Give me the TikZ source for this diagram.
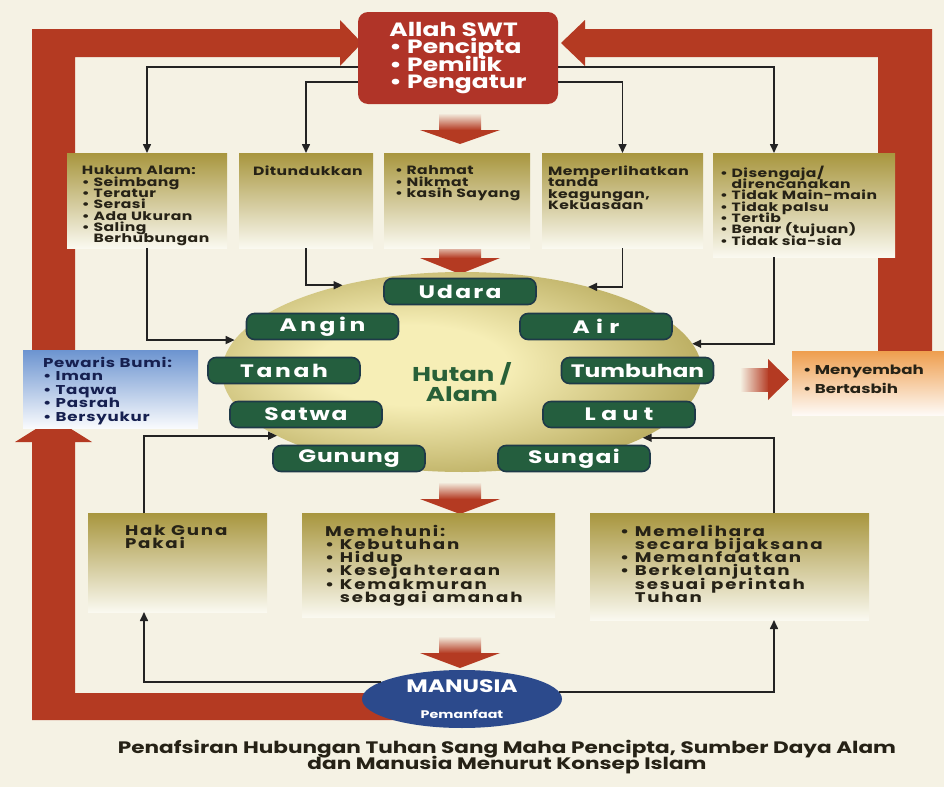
\documentclass[tikz,border=0pt]{standalone}
\usepackage{fontspec}
\setmainfont{Poppins}[FakeStretch=1.3]
\usetikzlibrary{arrows.meta,shapes.geometric}

\definecolor{cream}{RGB}{245,242,228}
\definecolor{framered}{RGB}{180,58,34}
\definecolor{boxred}{RGB}{176,52,40}
\definecolor{boxgold}{RGB}{168,150,62}
\definecolor{boxwhite}{RGB}{250,249,240}
\definecolor{pillgreen}{RGB}{36,94,62}
\definecolor{pilledge}{RGB}{30,58,72}
\definecolor{hutgreen}{RGB}{40,96,56}
\definecolor{ellin}{RGB}{246,238,182}
\definecolor{ellout}{RGB}{160,144,58}
\definecolor{skyblue}{RGB}{108,148,208}
\definecolor{navy}{RGB}{22,32,80}
\definecolor{orangetop}{RGB}{238,158,78}
\definecolor{manblue}{RGB}{44,74,140}
\definecolor{inkdark}{RGB}{38,34,22}
\definecolor{lineink}{RGB}{35,35,35}

\pgfdeclareradialshading{alamglow}{\pgfpoint{-6bp}{2bp}}{color(0bp)=(ellin); color(10bp)=(ellin); color(38bp)=(ellout); color(50bp)=(ellout); color(80bp)=(ellout)}

\newcommand\allahfont{\fontsize{9.6}{8.8}\selectfont\bfseries}
\newcommand\boxfont{\fontsize{6}{5.65}\selectfont\bfseries\addfontfeature{LetterSpace=4}}
\newcommand\lowfont{\fontsize{7}{6.6}\selectfont\bfseries\addfontfeature{LetterSpace=13}}
\newcommand\sidefont{\fontsize{6.4}{6.75}\selectfont\bfseries\addfontfeature{LetterSpace=6}}
\newcommand\pillfont{\fontsize{9}{9}\selectfont\bfseries}
\newcommand\capfont{\fontsize{8.3}{7.6}\selectfont\bfseries}
\newcommand\bul{\textbullet\ }
\newcommand\ind{\phantom{\textbullet\ }}
% width, height, left pad, top pad, text
\newcommand\boxtext[5]{\begin{minipage}[t][#2][t]{#1}\lineskiplimit=-100pt\lineskip=0pt\relax
  \vspace*{#4}\raggedright\leftskip=#3\relax #5\end{minipage}}

\tikzset{
  goldbox/.style={shade, top color=boxgold, middle color=boxgold!72!boxwhite, bottom color=boxwhite,
    anchor=north west, inner sep=0pt, outer sep=0pt, text=inkdark},
  pill/.style={rectangle, rounded corners=4pt, fill=pillgreen, draw=pilledge, line width=0.8pt,
    minimum width=76pt, minimum height=13pt, inner sep=0pt, text=white,
    font=\pillfont\addfontfeature{LetterSpace=#1}},
  pill/.default=0,
  conn/.style={draw=lineink, line width=0.8pt, -{Triangle[length=4.5pt,width=4pt]}},
  hutlabel/.style={align=center, font=\fontsize{10}{10}\selectfont\bfseries, text=hutgreen, yshift=-5pt},
}

\begin{document}
\begin{tikzpicture}[x=0.5pt,y=-0.5pt]
  \lineskiplimit=-100pt
  \useasboundingbox (0,0) rectangle (944,787);
  \fill[cream] (0,0) rectangle (944,787);

  % red frame
  \fill[framered] (405,720) -- (32,720) -- (32,442) -- (15,442) -- (53.5,418) -- (92,442)
    -- (75,442) -- (75,693) -- (405,693) -- cycle;
  \fill[framered] (32,352) -- (32,29) -- (340,29) -- (340,20) -- (362,43) -- (340,66)
    -- (340,57) -- (75,57) -- (75,352) -- cycle;
  \fill[framered] (932,352) -- (932,29) -- (585,29) -- (585,20) -- (561,43) -- (585,66)
    -- (585,57) -- (878,57) -- (878,352) -- cycle;

  % block arrows
  \foreach \ya/\yb/\yc in {113/130/144, 244/258/274, 482/499/514, 636/653/668}{
    \shade[top color=cream, bottom color=framered] (439,\ya) rectangle (481,\yb);
    \fill[framered] (420,\yb) -- (500,\yb) -- (460,\yc) -- cycle;
  }
  \shade[left color=cream, right color=framered] (740,368) rectangle (769,391);
  \fill[framered] (768,359) -- (789,379.5) -- (768,400) -- cycle;

  \coordinate (lcol) at (144,0);
  \coordinate (rcol) at (774,0);

  \node[rectangle, rounded corners=5pt, fill=boxred, minimum width=100pt, minimum height=46pt,
    text=white, align=left, font=\allahfont] (allah) at (458,58)
    {Allah SWT\\\bul Pencipta\\\bul Pemilik\\\bul Pengatur};

  % Hutan / Alam
  \node[ellipse, shading=alamglow, minimum width=240pt, minimum height=100pt, inner sep=0pt,
    outer sep=0pt, label={[hutlabel]center:{Hutan /\\Alam}}] (alam) at (462,372) {};
  \node[pill=12] (udara) at (460,291.5) {Udara};
  \node[pill=20] (angin) at (322.5,326.5) {Angin};
  \node[pill=35] (air) at (596,326.5) {Air};
  \node[pill=15] (tanah) at (284,370.5) {Tanah};
  \node[pill] (tumbuhan) at (637.5,370.5) {Tumbuhan};
  \node[pill=10] (satwa) at (306,414.5) {Satwa};
  \node[pill=30] (laut) at (619,414.5) {Laut};
  \node[pill=5] (gunung) at (349,458.5) {Gunung};
  \node[pill=8] (sungai) at (574,458.5) {Sungai};

  % top row
  \node[goldbox, font=\boxfont] (hukum) at (67,153) {\boxtext{80pt}{47.5pt}{7.5pt}{6.5pt}{Hukum Alam:\\
    \bul Seimbang\\\bul Teratur\\\bul Serasi\\\bul Ada Ukuran\\\bul Saling\\\ind Berhubungan}};
  \node[goldbox, font=\boxfont] (ditu) at (239,153) {\boxtext{67pt}{47.5pt}{7pt}{6.5pt}{Ditundukkan}};
  \node[goldbox, font=\boxfont] (rahmat) at (384,153) {\boxtext{73pt}{47.5pt}{5.5pt}{6.5pt}{\bul Rahmat\\
    \bul Nikmat\\\bul kasih Sayang}};
  \node[goldbox, font=\boxfont] (mem) at (542,153) {\boxtext{80.5pt}{47.5pt}{3pt}{6.5pt}{Memperlihatkan\\
    tanda\\keagungan,\\Kekuasaan}};
  \node[goldbox, font=\boxfont] (diseng) at (713,153) {\boxtext{91pt}{52pt}{3.5pt}{6.5pt}{\bul Disengaja/\\
    \ind direncanakan\\\bul Tidak Main-main\\\bul Tidak palsu\\\bul Tertib\\\bul Benar (tujuan)\\
    \bul Tidak sia-sia}};

  % bottom row
  \node[goldbox, font=\lowfont] (hak) at (88,513) {\boxtext{89.5pt}{49.5pt}{18.5pt}{6pt}{Hak Guna\\Pakai}};
  \node[goldbox, font=\lowfont] (memeh) at (302,513) {\boxtext{126.5pt}{52pt}{11.5pt}{6pt}{Memehuni:\\
    \bul Kebutuhan\\\bul Hidup\\\bul Kesejahteraan\\\bul Kemakmuran\\\ind sebagai amanah}};
  \node[goldbox, font=\lowfont] (pel) at (590,513) {\boxtext{139.5pt}{53.5pt}{15pt}{6pt}{\bul Memelihara\\
    \ind secara bijaksana\\\bul Memanfaatkan\\\bul Berkelanjutan\\\ind sesuai perintah\\\ind Tuhan}};

  % side boxes
  \node[goldbox, top color=skyblue, middle color=skyblue!55!white, bottom color=white!96!skyblue,
    text=navy, font=\sidefont] (pewaris) at (23,350) {\boxtext{87.5pt}{39pt}{10pt}{3.5pt}{Pewaris Bumi:\\
    \bul Iman\\\bul Taqwa\\\bul Pasrah\\\bul Bersyukur}};
  \node[goldbox, top color=orangetop, middle color=orangetop!50!white, bottom color=white!95!orangetop,
    font=\fontsize{6.4}{9.5}\selectfont\bfseries] (sembah) at (792,351)
    {\boxtext{76pt}{32pt}{5.5pt}{7pt}{\bul Menyembah\\\bul Bertasbih}};

  \node[ellipse, fill=manblue, minimum width=100pt, minimum height=29pt, inner sep=0pt, outer sep=0pt,
    text=white, align=center, font=\bfseries] (manusia) at (462,699)
    {{\fontsize{9}{9}\selectfont MANUSIA}\\[1pt]{\fontsize{5.5}{6}\selectfont Pemanfaat}};

  % connectors
  \draw[conn] (allah.west |- 0,67) -| (hukum.north);
  \draw[conn] (allah.west |- 0,82) -| (ditu.north);
  \draw[conn] (allah.east |- 0,82) -| (mem.north);
  \draw[conn] (allah.east |- 0,67) -| (rcol |- diseng.north);
  \draw[conn] (hukum.south) |- (alam.172);
  \draw[conn] (ditu.south) |- (alam.144);
  \draw[conn] (mem.south) |- (alam.34);
  \draw[conn] (rcol |- diseng.south) |- (alam.7.5);
  \draw[conn] (lcol |- hak.north) |- (alam.199);
  \draw[conn] (rcol |- pel.north) |- (alam.340);
  \draw[conn] (manusia.168) -| (lcol |- hak.south);
  \draw[conn] (manusia.4) -| (rcol |- pel.south);

  \node[align=center, font=\capfont, text=inkdark] (caption) at (507,757)
    {Penafsiran Hubungan Tuhan Sang Maha Pencipta, Sumber Daya Alam\\dan Manusia Menurut Konsep Islam};
\end{tikzpicture}
\end{document}
